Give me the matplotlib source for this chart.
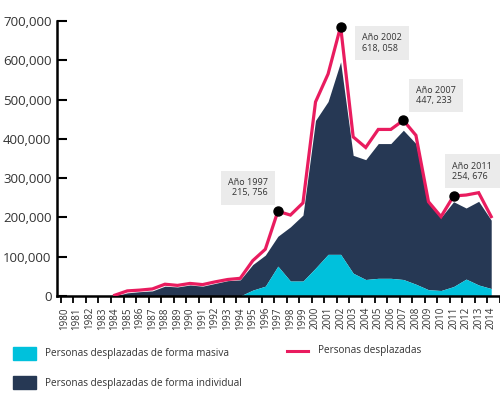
import numpy as np
import matplotlib.pyplot as plt
from matplotlib.patches import Rectangle
from matplotlib.lines import Line2D

plt.rcParams['font.family'] = ['Open Sans', 'DejaVu Sans']

# ---------------------------------------------------------------------------
# Data (values in persons)
# ---------------------------------------------------------------------------
years = list(range(1980, 2015))

# Personas desplazadas (total line); nothing drawn before 1984
total = [np.nan, np.nan, np.nan, np.nan,
         2000, 13000, 15000, 18000, 30000, 27000, 32000, 29000, 36000, 42000,
         45000, 90000, 119000, 215756, 206000, 237000, 494000, 565000, 686000,
         405000, 378000, 424000, 424000, 447233, 409000, 240000, 202000,
         254676, 257000, 263000, 202000]

# Personas desplazadas de forma masiva
masiva = [0, 0, 0, 0,
          0, 0, 0, 0, 0, 0, 0, 0, 0, 0,
          0, 15000, 25000, 76000, 38000, 38000, 71000, 106000, 106000,
          58000, 42000, 45000, 45000, 42000, 30000, 16000, 14000,
          24000, 43000, 28000, 19000]

# Personas desplazadas de forma individual (stacked on top of masiva)
individual = [0, 0, 0, 0,
              0, 8000, 11000, 13000, 25000, 23000, 28000, 25000, 32000, 39000,
              41000, 65000, 79000, 76000, 138000, 168000, 376000, 389000, 490000,
              300000, 305000, 343000, 343000, 380000, 358000, 220000, 186000,
              216000, 181000, 213000, 174000]

# Highlighted years and their callout texts
note_years = [1997, 2002, 2007, 2011]
note_texts = ["Año 1997\n215, 756", "Año 2002\n618, 058",
              "Año 2007\n447, 233", "Año 2011\n254, 676"]

COLOR_MASIVA = "#00c1dc"
COLOR_INDIVIDUAL = "#263854"
COLOR_TOTAL = "#e91c5f"
TEXT_COLOR = "#333333"

fig = plt.figure(figsize=(5, 4), dpi=100)
ax = fig.add_axes([0.114, 0.26, 0.886, 0.6875])

x = np.array(years)
m = np.array(masiva, dtype=float)
ind = np.array(individual, dtype=float)

# --- stacked areas ---
ax.fill_between(x, 0, m, color=COLOR_MASIVA, linewidth=0, zorder=2)
ax.fill_between(x, m, m + ind, color=COLOR_INDIVIDUAL, linewidth=0, zorder=1)

# --- total line ---
ax.plot(x, total, color=COLOR_TOTAL, linewidth=2.3, zorder=3,
        solid_joinstyle="miter")

# --- highlighted points + callouts ---
tot = dict(zip(years, total))
ax.plot(note_years, [tot[y] for y in note_years], "o", color="black",
        markersize=6.5, zorder=4)

callout_pos = [(1994.6, 275000), (2005.3, 644000), (2009.6, 510000),
               (2012.5, 318000)]
callout_align = ["right", "left", "left", "left"]
for txt, (cx, cy), al in zip(note_texts, callout_pos, callout_align):
    ax.text(cx, cy, txt, ha="center", va="center", multialignment=al,
            fontsize=6.5, color=TEXT_COLOR, linespacing=1.15, zorder=5,
            bbox=dict(boxstyle="square,pad=0.8", facecolor="#ebebeb",
                      edgecolor="none"))

# --- axes styling ---
ax.set_xlim(1979.4, 2014.4)
ax.set_ylim(0, 700000)
ax.set_yticks(np.arange(0, 700001, 100000))
ax.set_yticklabels([f"{v:,}" for v in range(0, 700001, 100000)])
ax.set_xticks(years)
ax.set_xticklabels([str(y) for y in years], rotation=90)
ax.set_xticks(np.arange(1979.7, 2015, 1.0), minor=True)

ax.tick_params(axis="y", direction="in", length=7, width=1.5,
               labelsize=9.5, labelcolor=TEXT_COLOR, pad=4)
ax.tick_params(axis="x", which="major", length=0, labelsize=7,
               labelcolor=TEXT_COLOR, pad=8)
ax.tick_params(axis="x", which="minor", direction="out", length=5,
               width=1.3)

for side in ("top", "right"):
    ax.spines[side].set_visible(False)
for side in ("left", "bottom"):
    ax.spines[side].set_linewidth(1.8)
ax.set_facecolor("none")

# --- legend (drawn in figure pixels) ---
W, H = 500, 400
def fx(px):
    return px / W
def fy(py):
    return 1 - py / H

fig.add_artist(Rectangle((fx(13), fy(360)), fx(23), 13 / H,
                         transform=fig.transFigure, color=COLOR_MASIVA))
fig.text(fx(45), fy(353.5), "Personas desplazadas de forma masiva",
         fontsize=7.2, color=TEXT_COLOR, va="center", ha="left")

fig.add_artist(Rectangle((fx(13), fy(389)), fx(23), 13 / H,
                         transform=fig.transFigure, color=COLOR_INDIVIDUAL))
fig.text(fx(45), fy(383.5), "Personas desplazadas de forma individual",
         fontsize=7.2, color=TEXT_COLOR, va="center", ha="left")

fig.add_artist(Line2D([fx(287), fx(308)], [fy(351), fy(351)],
                      transform=fig.transFigure, color=COLOR_TOTAL,
                      linewidth=2.2))
fig.text(fx(318), fy(351), "Personas desplazadas",
         fontsize=7.2, color=TEXT_COLOR, va="center", ha="left")

fig.savefig("out.png", dpi=100)
